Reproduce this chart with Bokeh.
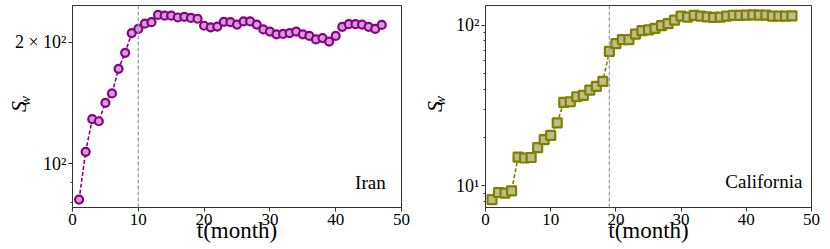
from bokeh.plotting import figure
from bokeh.layouts import row
from bokeh.models import Span, Label, FixedTicker, ColumnDataSource, LinearAxis
from bokeh.embed import file_html
from bokeh.resources import INLINE

# ---- data ----
months = list(range(1, 48))
iran = [81.4, 107, 129, 127.4, 141.6, 149.4, 172, 188.4, 211, 216,
        222.6, 224.5, 234, 233, 233, 230.6, 231.5, 230, 229, 220,
        218, 219, 225, 224.5, 221.5, 225.5, 225.5, 221.5, 215.4, 212.8,
        209.5, 210, 211, 212.8, 209.5, 207.5, 203.4, 205, 201, 207.5,
        218.6, 222, 222, 221.5, 218.6, 216, 221]
california = [8.2, 9.08, 9.0, 9.3, 15.1, 14.9, 15.0, 17.3, 19.4, 20.6,
              24.7, 33.1, 33.4, 35.9, 36.6, 39.5, 41.6, 44.7, 68.9, 76.9,
              81.5, 81.5, 88.3, 92.7, 93.6, 95.9, 99.6, 102.5, 107.8, 114.2,
              112.5, 115.3, 114.2, 113, 112, 112.5, 114.2, 115.3, 115.3, 115.7,
              116.3, 115.7, 115.7, 114.2, 114.2, 114.2, 114.7]
iran_break = 10
california_break = 19
x_ticks = [0, 10, 20, 30, 40, 50]
iran_major = [100, 200]
iran_minor = [80, 90]
iran_labels = {100: "10²", 200: "2 × 10²"}
cal_major = [10, 100]
cal_minor = [8, 9, 20, 30, 40, 50, 60, 70, 80, 90]
cal_labels = {10: "10¹", 100: "10²"}
y_label_main = "S"
y_label_sub = "\u00a0\u00a0\u00a0w"

SERIF = "Liberation Serif"


def make_panel(y, name, color, fill, marker, yrange, major, minor, labels,
               brk, name_pos, width, border_left, border_right,
               w_standoff, s_standoff):
    p = figure(width=width, height=249, x_range=(0, 50), y_range=yrange,
               y_axis_type="log", output_backend="svg", toolbar_location=None,
               min_border_left=border_left, min_border_right=border_right,
               min_border_top=5, min_border_bottom=42)
    p.xgrid.visible = False
    p.ygrid.visible = False
    p.outline_line_color = "#333333"
    p.outline_line_width = 1
    p.background_fill_color = "white"
    p.border_fill_color = "white"

    p.xaxis.ticker = FixedTicker(ticks=x_ticks, minor_ticks=[])
    p.yaxis.ticker = FixedTicker(ticks=major, minor_ticks=minor)
    p.yaxis.major_label_overrides = labels
    for ax in (p.xaxis, p.yaxis):
        ax.axis_line_color = "#333333"
        ax.major_tick_line_color = "#333333"
        ax.minor_tick_line_color = "#333333"
        ax.major_tick_in = 0
        ax.major_tick_out = 4
        ax.minor_tick_in = 0
        ax.minor_tick_out = 2
        ax.major_label_text_font = SERIF
        ax.major_label_text_font_size = "17px"
        ax.major_label_text_color = "black"
        ax.major_label_standoff = 2
    p.yaxis.major_label_text_font_size = "18px"
    p.xaxis.axis_label = "t(month)"
    p.xaxis.axis_label_text_font = SERIF
    p.xaxis.axis_label_text_font_size = "23px"
    p.xaxis.axis_label_text_font_style = "normal"
    p.xaxis.axis_label_text_color = "black"
    p.xaxis.axis_label_standoff = -10

    # subscript part of the y label, carried by the main y axis
    p.yaxis.axis_label = y_label_sub
    p.yaxis.axis_label_text_font = SERIF
    p.yaxis.axis_label_text_font_style = "italic"
    p.yaxis.axis_label_text_font_size = "15px"
    p.yaxis.axis_label_text_color = "black"
    p.yaxis.axis_label_standoff = w_standoff

    # main letter of the y label, on an empty outer axis
    outer = LinearAxis(ticker=FixedTicker(ticks=[], minor_ticks=[]),
                       axis_line_color=None, major_tick_line_color=None,
                       minor_tick_line_color=None, major_tick_out=0,
                       major_label_text_font_size="0px",
                       axis_label=y_label_main, axis_label_text_font=SERIF,
                       axis_label_text_font_style="italic",
                       axis_label_text_font_size="22px",
                       axis_label_text_color="black",
                       axis_label_standoff=s_standoff)
    p.add_layout(outer, "left")

    p.add_layout(Span(location=brk, dimension="height", line_color="#a0a0a0",
                      line_dash="4 2", line_width=1.3))

    src = ColumnDataSource(dict(t=months, v=y))
    p.line("t", "v", source=src, line_color=color, line_dash="4 2", line_width=1.6)
    p.scatter("t", "v", source=src, marker=marker, size=8 if marker == "circle" else 9,
              line_color=color, line_width=2.2, fill_color=fill)

    p.add_layout(Label(x=name_pos[0], y=name_pos[1], text=name, text_font=SERIF,
                       text_font_size="19px", text_align="right",
                       text_baseline="middle", text_color="black"))
    return p


p1 = make_panel(iran, "Iran", "#8b008b", "#cf9fcf", "circle", (77.8, 247),
                iran_major, iran_minor, iran_labels, iran_break,
                (47.6, 89.7), 418, 72, 17, -21, -17)
p2 = make_panel(california, "California", "#808000", "#bdbd8c", "square", (7.32, 133),
                cal_major, cal_minor, cal_labels, california_break,
                (48.6, 10.6), 410, 64, 17, 5, -17)

layout = row(p1, p2)
open("out.html", "w").write(file_html(layout, INLINE))
